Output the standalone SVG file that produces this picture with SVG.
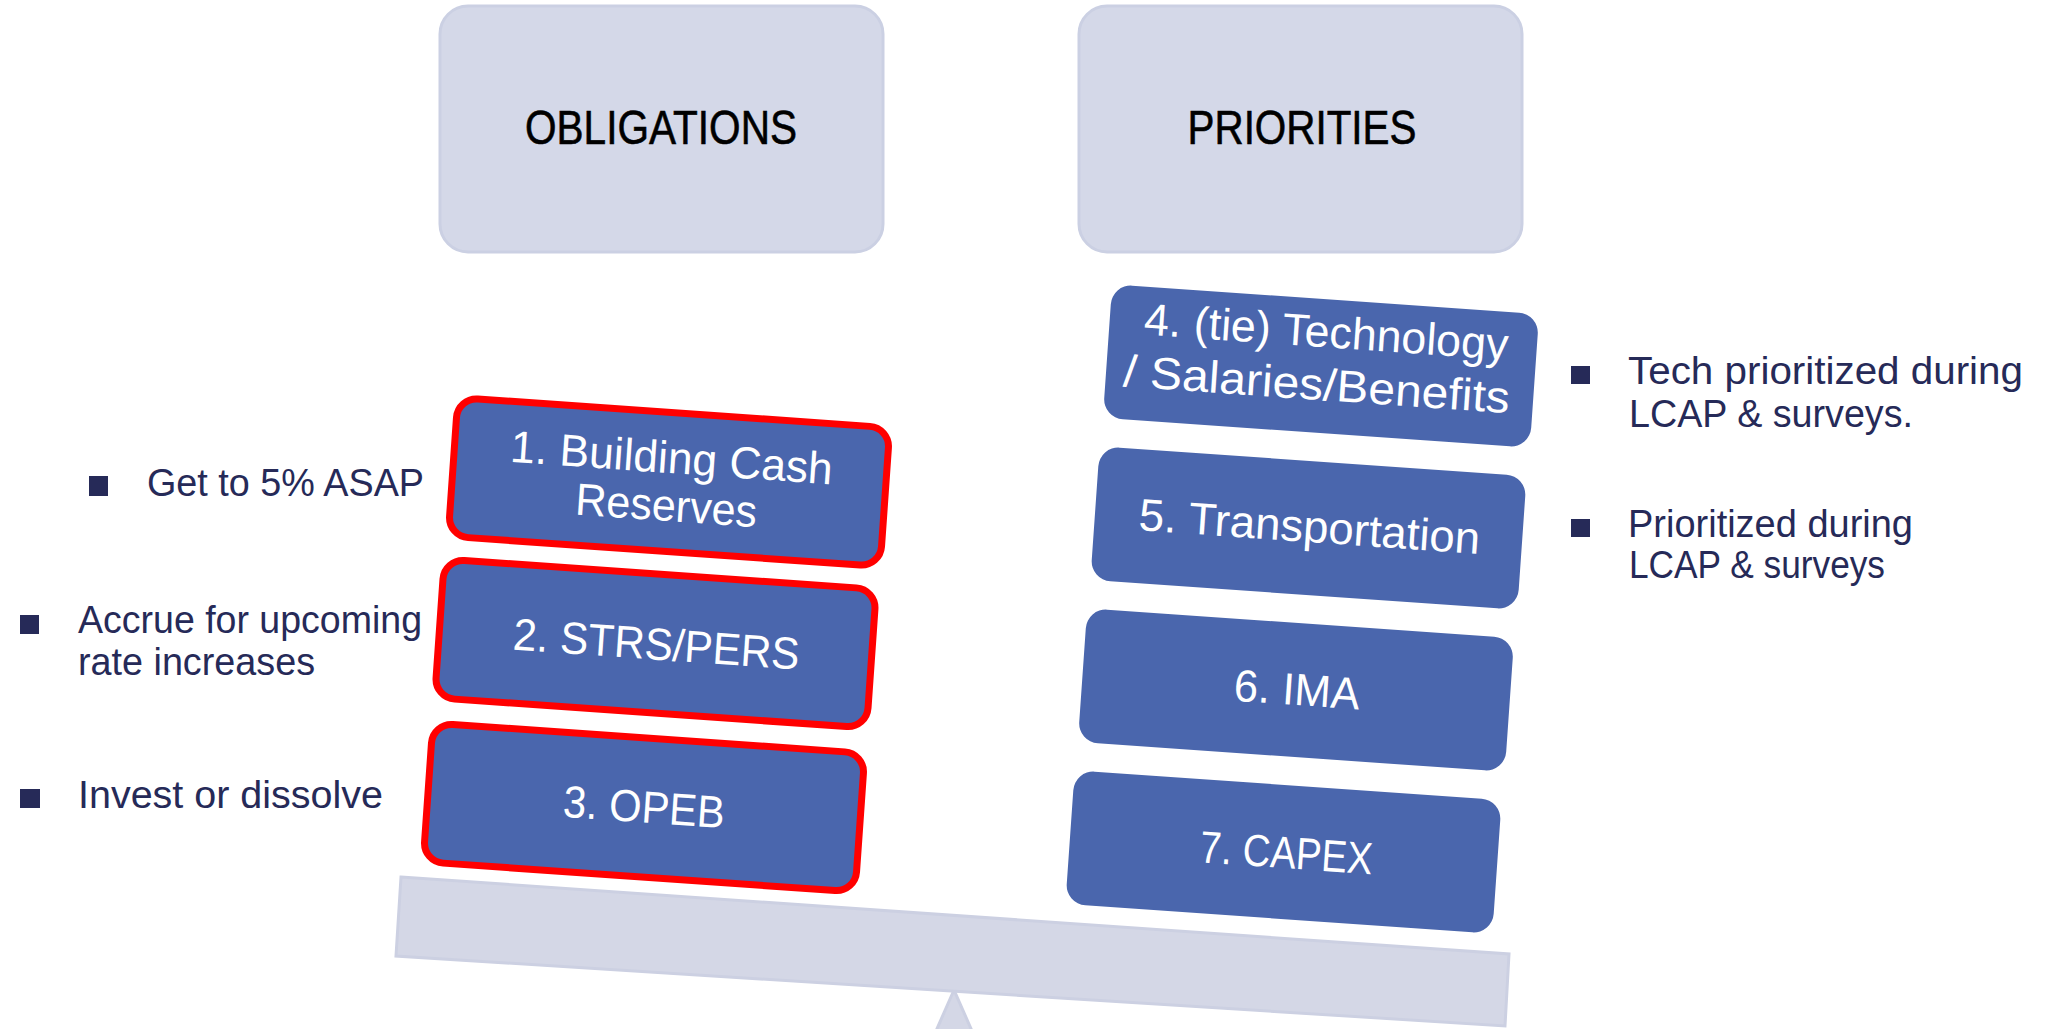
<svg xmlns="http://www.w3.org/2000/svg" width="2049" height="1029" viewBox="0 0 2049 1029">
  <style>
    .header rect { fill: #D4D8E8; stroke: #CBD0E3; stroke-width: 3; }
    .header text { font-family: "Liberation Sans Narrow", "Liberation Sans", Arial, sans-serif; font-size: 48px; fill: #000000; stroke: #000000; stroke-width: 0.6; text-anchor: middle; }
    .box rect { fill: #4A66AD; }
    .box.must rect { stroke: #FF0000; stroke-width: 7; }
    .box text { font-family: "Liberation Sans", Arial, sans-serif; font-size: 45px; fill: #FFFFFF; text-anchor: middle; }
    .note text { font-family: "Liberation Sans", Arial, sans-serif; font-size: 38px; fill: #262A58; }
    .note rect { fill: #262A58; }
    .scale { fill: #D4D7E6; stroke: #CCD0E2; stroke-width: 3; }
  </style>

  <rect x="0" y="0" width="2049" height="1029" fill="#FFFFFF"/>

  <!-- balance beam and fulcrum -->
  <g id="scale">
    <polygon class="scale" points="954,990 936,1031 972,1031"/>
    <polygon class="scale" points="401,877 1509,954 1505,1026 396,956"/>
  </g>

  <!-- column headers -->
  <g id="header-obligations" class="header">
    <rect x="440" y="6" width="443" height="246" rx="28" ry="28"/>
    <text x="661" y="144" textLength="272" lengthAdjust="spacingAndGlyphs">OBLIGATIONS</text>
  </g>
  <g id="header-priorities" class="header">
    <rect x="1079" y="6" width="443" height="246" rx="28" ry="28"/>
    <text x="1302" y="144" textLength="229" lengthAdjust="spacingAndGlyphs">PRIORITIES</text>
  </g>

  <!-- obligations stack (tilted with the beam) -->
  <g id="box-1" class="box must" transform="translate(669,482) rotate(4)">
    <rect x="-216.5" y="-69.5" width="433" height="139" rx="20" ry="20"/>
    <text x="1" y="-9" textLength="323" lengthAdjust="spacingAndGlyphs">1. Building Cash</text>
    <text x="-1" y="39" textLength="182" lengthAdjust="spacingAndGlyphs">Reserves</text>
  </g>
  <g id="box-2" class="box must" transform="translate(655.5,643.5) rotate(4)">
    <rect x="-216.5" y="-69.5" width="433" height="139" rx="20" ry="20"/>
    <text x="1" y="16" textLength="287" lengthAdjust="spacingAndGlyphs">2. STRS/PERS</text>
  </g>
  <g id="box-3" class="box must" transform="translate(644,807.5) rotate(4)">
    <rect x="-216.5" y="-69.5" width="433" height="139" rx="20" ry="20"/>
    <text x="0" y="15" textLength="162" lengthAdjust="spacingAndGlyphs">3. OPEB</text>
  </g>

  <!-- priorities stack -->
  <g id="box-4" class="box" transform="translate(1321,366) rotate(4)">
    <rect x="-214" y="-67" width="428" height="134" rx="20" ry="20"/>
    <text x="3" y="-19" textLength="365" lengthAdjust="spacingAndGlyphs">4. (tie) Technology</text>
    <text x="-3" y="34" textLength="387" lengthAdjust="spacingAndGlyphs">/ Salaries/Benefits</text>
  </g>
  <g id="box-5" class="box" transform="translate(1308.5,528) rotate(4)">
    <rect x="-214" y="-67" width="428" height="134" rx="20" ry="20"/>
    <text x="1" y="14" textLength="342" lengthAdjust="spacingAndGlyphs">5. Transportation</text>
  </g>
  <g id="box-6" class="box" transform="translate(1296,690) rotate(4)">
    <rect x="-214" y="-67" width="428" height="134" rx="20" ry="20"/>
    <text x="1" y="15" textLength="126" lengthAdjust="spacingAndGlyphs">6. IMA</text>
  </g>
  <g id="box-7" class="box" transform="translate(1283.5,852) rotate(4)">
    <rect x="-214" y="-67" width="428" height="134" rx="20" ry="20"/>
    <text x="3" y="16" textLength="173" lengthAdjust="spacingAndGlyphs">7. CAPEX</text>
  </g>

  <!-- side notes -->
  <g id="note-1" class="note">
    <rect x="89" y="476" width="19" height="20"/>
    <text x="147" y="496" textLength="277" lengthAdjust="spacingAndGlyphs">Get to 5% ASAP</text>
  </g>
  <g id="note-2" class="note">
    <rect x="20" y="615" width="19" height="19"/>
    <text x="78" y="633" textLength="344" lengthAdjust="spacingAndGlyphs">Accrue for upcoming</text>
    <text x="78" y="675" textLength="237" lengthAdjust="spacingAndGlyphs">rate increases</text>
  </g>
  <g id="note-3" class="note">
    <rect x="20" y="789" width="20" height="19"/>
    <text x="78" y="808" textLength="305" lengthAdjust="spacingAndGlyphs">Invest or dissolve</text>
  </g>
  <g id="note-4" class="note">
    <rect x="1571" y="366" width="19" height="18"/>
    <text x="1628" y="384" textLength="395" lengthAdjust="spacingAndGlyphs">Tech prioritized during</text>
    <text x="1629" y="427" textLength="284" lengthAdjust="spacingAndGlyphs">LCAP &amp; surveys.</text>
  </g>
  <g id="note-5" class="note">
    <rect x="1571" y="519" width="19" height="18"/>
    <text x="1628" y="537" textLength="285" lengthAdjust="spacingAndGlyphs">Prioritized during</text>
    <text x="1629" y="578" textLength="256" lengthAdjust="spacingAndGlyphs">LCAP &amp; surveys</text>
  </g>
</svg>
